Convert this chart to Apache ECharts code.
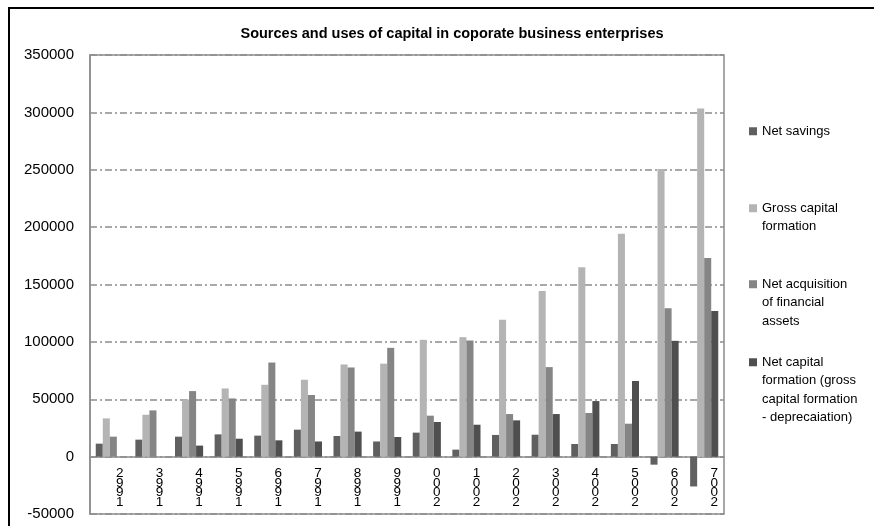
<!DOCTYPE html>
<html>
<head>
<meta charset="utf-8">
<script src="https://cdn.jsdelivr.net/npm/echarts@6/dist/echarts.min.js"></script>
<style>html,body{margin:0;padding:0;background:#fff}#c{width:874px;height:526px}</style>
</head>
<body>
<div id="c"></div>
<script>
const years = ['1992','1993','1994','1995','1996','1997','1998','1999','2000','2001','2002','2003','2004','2005','2006','2007'];
const netSavings = [11300, 14800, 17400, 19400, 18300, 23500, 18000, 13200, 20900, 6100, 18900, 19100, 11000, 11000, -7000, -26000];
const grossCapitalFormation = [33300, 36500, 49900, 59400, 62600, 67000, 80300, 81000, 101800, 104100, 119200, 144400, 165000, 194300, 250600, 303400];
const netAcquisitionFinancial = [17400, 40300, 57100, 50700, 82000, 53700, 77700, 94800, 35700, 101200, 37100, 78000, 38000, 28700, 129300, 173100];
const netCapitalFormation = [null, null, 9600, 15600, 14200, 13200, 21800, 17100, 30200, 27800, 31600, 37100, 48400, 65900, 100900, 126800];

const seriesNames = ['Net savings', 'Gross capital formation', 'Net acquisition of financial assets', 'Net capital formation (gross capital formation - deprecaiation)'];
const legendLabels = ['Net savings', 'Gross capital\nformation', 'Net acquisition\nof financial\nassets', 'Net capital\nformation (gross\ncapital formation\n- deprecaiation)'];
const colors = ['#606060', '#b4b4b4', '#858585', '#4f4f4f'];
const dataSets = [netSavings, grossCapitalFormation, netAcquisitionFinancial, netCapitalFormation];
const legendTops = [117, 194, 270, 348];

const chart = echarts.init(document.getElementById('c'), null, {renderer: 'canvas'});
const FONT = 'Liberation Sans';

const legends = seriesNames.map((name, i) => ({
  data: [name],
  orient: 'vertical',
  left: 739,
  top: legendTops[i],
  itemWidth: 0,
  itemHeight: 0,
  itemGap: 0,
  itemStyle: {opacity: 0},
  selectedMode: false,
  formatter: function () {
    const lines = legendLabels[i].split('\n');
    return lines.map((l, k) => k === 0 ? '{sq' + i + '|}{t|' + l + '}' : '{pad|}{t|' + l + '}').join('\n');
  },
  textStyle: {
    fontFamily: FONT,
    fontSize: 13,
    lineHeight: 18.5,
    color: '#000',
    rich: {
      sq0: {width: 8, height: 8, backgroundColor: colors[0]},
      sq1: {width: 8, height: 8, backgroundColor: colors[1]},
      sq2: {width: 8, height: 8, backgroundColor: colors[2]},
      sq3: {width: 8, height: 8, backgroundColor: colors[3]},
      pad: {width: 8},
      t: {fontFamily: FONT, fontSize: 13, lineHeight: 18.5, color: '#000', padding: [0, 0, 0, 5]}
    }
  }
}));

const option = {
  animation: false,
  backgroundColor: '#fff',
  title: {
    text: 'Sources and uses of capital in coporate business enterprises',
    left: 447,
    textAlign: 'center',
    top: 21,
    textStyle: {fontFamily: FONT, fontSize: 14.5, fontWeight: 'bold', color: '#000'}
  },
  legend: legends,
  grid: {left: 90, right: 150, top: 55, bottom: 12, show: true, borderColor: '#8c8c8c', borderWidth: 1.5, containLabel: false, outerBoundsMode: 'none'},
  xAxis: {
    type: 'category',
    data: years,
    axisLine: {onZero: true, lineStyle: {color: '#8c8c8c', width: 1.5}},
    axisTick: {show: false},
    axisLabel: {
      interval: 0,
      margin: -45,
      fontFamily: FONT,
      fontSize: 13.5,
      lineHeight: 9.5,
      color: '#000',
      padding: [0, 0, 0, 20],
      formatter: v => v.split('').reverse().join('\n')
    }
  },
  yAxis: {
    type: 'value',
    min: -50000,
    max: 350000,
    interval: 50000,
    axisLine: {show: true, lineStyle: {color: '#8c8c8c', width: 1.5}},
    axisTick: {show: false},
    axisLabel: {fontFamily: FONT, fontSize: 15, color: '#000', margin: 16, formatter: v => String(v)},
    splitLine: {show: true, lineStyle: {color: '#8c8c8c', width: 1.5, type: [7, 3, 2, 3]}}
  },
  series: seriesNames.map((name, i) => ({
    name: name,
    type: 'bar',
    data: dataSets[i],
    itemStyle: {color: colors[i]},
    barGap: '0%',
    barCategoryGap: '29%'
  })),
  graphic: [
    {type: 'polyline', shape: {points: [[9, 530], [9, 8], [880, 8]]}, style: {stroke: '#000', lineWidth: 2, fill: null}, silent: true}
  ]
};
chart.setOption(option);
</script>
</body>
</html>
